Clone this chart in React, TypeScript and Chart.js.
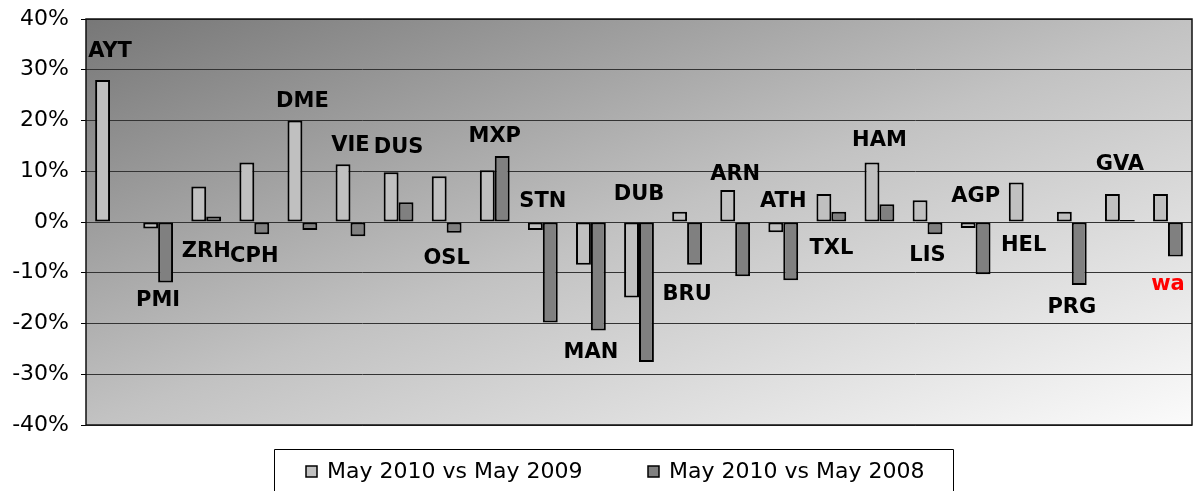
import React, { useEffect, useRef } from "react";
import { Chart, registerables } from "chart.js";

Chart.register(...registerables);

const airports = ["AYT", "PMI", "ZRH", "CPH", "DME", "VIE", "DUS", "OSL", "MXP", "STN", "MAN", "DUB", "BRU", "ARN", "ATH", "TXL", "HAM", "LIS", "AGP", "HEL", "PRG", "GVA", "wa"];
const vs2009 = [28, -1.3, 7.0, 11.7, 20.0, 11.4, 9.8, 9.0, 10.2, -1.6, -8.4, -14.9, 2.0, 6.3, -2.0, 5.5, 11.7, 4.3, -1.2, 7.8, 2.0, 5.5, 5.5];
const vs2008: (number | null)[] = [null, -11.9, 1.1, -2.4, -1.6, -2.8, 3.9, -2.1, 13.0, -19.8, -21.4, -27.6, -8.4, -10.7, -11.5, 2.0, 3.5, -2.4, -10.3, null, -12.4, 0.4, -6.8];
// level (in %) at which each airport code is written
const labelLevels = [33.5, -15.4, -5.9, -6.9, 23.7, 15.0, 14.6, -7.2, 16.8, 4.1, -25.8, 5.5, -14.2, 9.3, 4.1, -5.2, 16.0, -6.7, 5.0, -4.7, -16.8, 11.4, -12.4];
const seriesNames = ["May 2010 vs May 2009", "May 2010 vs May 2008"];
const yTicks = [-40, -30, -20, -10, 0, 10, 20, 30, 40];

const FONT = 'Verdana, "DejaVu Sans", sans-serif';
const fill1 = "#c0c0c0";
const fill2 = "#808080";

export default function App() {
  const ref = useRef<HTMLCanvasElement | null>(null);
  useEffect(() => {
    document.body.style.margin = "0";
    const canvas = ref.current!;
    const bgPlugin = {
      id: "bg",
      beforeDraw(chart: any) {
        const { ctx, chartArea: a } = chart;
        const W = a.right - a.left;
        const H = a.bottom - a.top;
        const k = 2 / (1 / (W * W) + 1 / (H * H));
        const g = ctx.createLinearGradient(a.left, a.top, a.left + k / W, a.top + k / H);
        g.addColorStop(0, "#777777");
        g.addColorStop(0.5, "#c2c2c2");
        g.addColorStop(1, "#fbfbfb");
        ctx.save();
        ctx.fillStyle = g;
        ctx.fillRect(a.left, a.top, W, H);
        ctx.restore();
      },
    };
    const labelPlugin = {
      id: "codes",
      afterDatasetsDraw(chart: any) {
        const { ctx } = chart;
        const xs = chart.scales.x;
        const ys = chart.scales.y;
        ctx.save();
        ctx.font = "bold 21px " + FONT;
        ctx.textAlign = "center";
        ctx.textBaseline = "middle";
        airports.forEach((code, i) => {
          ctx.fillStyle = i === airports.length - 1 ? "#ff0000" : "#000000";
          ctx.fillText(code, xs.getPixelForValue(i), ys.getPixelForValue(labelLevels[i]));
        });
        ctx.restore();
      },
      afterDraw(chart: any) {
        const { ctx, chartArea: a } = chart;
        ctx.save();
        ctx.strokeStyle = "#111111";
        ctx.lineWidth = 1.5;
        ctx.strokeRect(a.left, a.top, a.right - a.left, a.bottom - a.top);
        // legend
        const L = 274.5, R = 953.5, T = 449.5, B = chart.height + 5;
        ctx.lineWidth = 1;
        ctx.strokeStyle = "#000";
        ctx.beginPath();
        ctx.moveTo(L, B);
        ctx.lineTo(L, T);
        ctx.lineTo(R, T);
        ctx.lineTo(R, B);
        ctx.stroke();
        const items = [
          { x: 306, fill: fill1 },
          { x: 648, fill: fill2 },
        ];
        ctx.font = "22px " + FONT;
        ctx.textBaseline = "middle";
        ctx.textAlign = "left";
        items.forEach((it, i) => {
          ctx.fillStyle = it.fill;
          ctx.fillRect(it.x, 466, 11, 11);
          ctx.strokeStyle = "#000";
          ctx.lineWidth = 1.5;
          ctx.strokeRect(it.x, 466, 11, 11);
          ctx.fillStyle = "#000";
          ctx.fillText(seriesNames[i], it.x + 21, 472);
        });
        ctx.restore();
      },
    };
    const chart = new Chart(canvas, {
      type: "bar",
      data: {
        labels: airports,
        datasets: [
          { label: seriesNames[0], data: vs2009, backgroundColor: fill1, borderColor: "#000", borderWidth: 2, borderSkipped: false },
          { label: seriesNames[1], data: vs2008, backgroundColor: fill2, borderColor: "#000", borderWidth: 2, borderSkipped: false },
        ],
      },
      options: {
        animation: false,
        responsive: false,
        devicePixelRatio: 1,
        layout: { padding: { left: 0, right: 1, top: 19, bottom: 66 } },
        datasets: { bar: { categoryPercentage: 0.62, barPercentage: 1 } },
        plugins: { legend: { display: false }, tooltip: { enabled: false } },
        scales: {
          x: { display: false },
          y: {
            min: -40,
            max: 40,
            afterFit(scale: any) {
              scale.width = 86;
              scale.paddingTop = 0;
              scale.paddingBottom = 0;
            },
            afterBuildTicks(scale: any) {
              scale.ticks = yTicks.map((v) => ({ value: v }));
            },
            grid: { color: "#333333", tickColor: "#000", tickLength: 5, lineWidth: 1 },
            border: { display: false },
            ticks: {
              color: "#000",
              padding: 12,
              font: { family: FONT, size: 22 },
              callback: (v: any) => v + "%",
            },
          },
        },
      },
      plugins: [bgPlugin, labelPlugin],
    });
    return () => chart.destroy();
  }, []);
  return <canvas ref={ref} width={1193} height={491} style={{ display: "block" }} />;
}
